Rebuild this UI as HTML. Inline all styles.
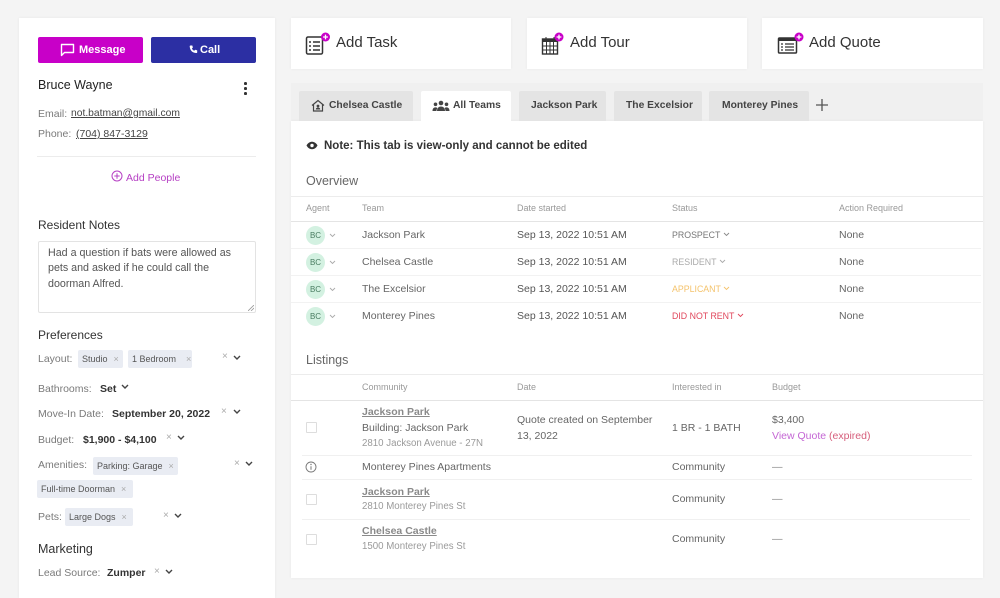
<!DOCTYPE html>
<html><head><meta charset="utf-8">
<style>
*{margin:0;padding:0;box-sizing:border-box}
body{width:1000px;height:589px;background:#f4f4f4;font-family:"Liberation Sans",Arial,sans-serif;position:relative;overflow:hidden;color:#333}
.a{position:absolute;white-space:nowrap;line-height:16px;height:16px}
.box{position:absolute;background:#fff}
.hr{position:absolute;height:1px;background:#ececec}
.lbl{color:#7a7a7a;font-size:10.5px}
.val{color:#333;font-size:10.5px;font-weight:bold}
.chip{position:absolute;background:#e9ecf3;border-radius:2px;height:18px;line-height:18px;font-size:9px;color:#555;padding-left:4px;white-space:nowrap}
.chip i{font-style:normal;color:#aaa;margin-left:6px;font-size:9px}
.x{position:absolute;color:#aaa;font-size:10px;line-height:10px}
.hd{font-size:9px;color:#999}
.rw{font-size:10.5px;color:#666}
.cb{position:absolute;width:11px;height:11px;border:1px solid #ddd;border-radius:1px;background:#fff}
.tab{position:absolute;top:91px;height:30px;background:#e4e4e4;border-radius:2px 2px 0 0;font-size:10.3px;font-weight:bold;color:#444;line-height:30px;white-space:nowrap}
</style></head><body>

<!-- LEFT PANEL -->
<div class="box" style="left:19px;top:18px;width:256px;height:580px;box-shadow:0 0 3px rgba(0,0,0,.06)"></div>

<div style="position:absolute;left:38px;top:37px;width:105px;height:26px;background:#c800c8;border-radius:2px"></div>
<svg style="position:absolute;left:60px;top:43px" width="15" height="14" viewBox="0 0 15 14"><path d="M1.5 1.5h12v8h-9l-3 3z" fill="none" stroke="#fff" stroke-width="1.4" stroke-linejoin="round"/></svg>
<div class="a" style="left:79px;top:42px;color:#fff;font-size:11px;font-weight:bold">Message</div>

<div style="position:absolute;left:151px;top:37px;width:105px;height:26px;background:#2c2fa3;border-radius:2px"></div>
<svg style="position:absolute;left:189px;top:45px" width="9" height="9" viewBox="0 0 9 9"><path d="M1.5 0.5l1.8 0 .6 2-1 1c.5 1 1.3 1.8 2.3 2.3l1-1 2 .6v1.8c0 .5-.4.8-.8.8C3.4 8 1 5.6 0.7 1.3c0-.4.3-.8.8-.8z" fill="#fff"/></svg>
<div class="a" style="left:200px;top:42px;color:#fff;font-size:11px;font-weight:bold">Call</div>

<div class="a" style="left:38px;top:77px;font-size:12.5px;color:#222">Bruce Wayne</div>
<div style="position:absolute;left:244px;top:82px;width:2.6px;height:2.6px;border-radius:50%;background:#333"></div>
<div style="position:absolute;left:244px;top:87px;width:2.6px;height:2.6px;border-radius:50%;background:#333"></div>
<div style="position:absolute;left:244px;top:92px;width:2.6px;height:2.6px;border-radius:50%;background:#333"></div>

<div class="a lbl" style="left:38px;top:106px">Email:</div>
<div class="a" style="left:71px;top:106px;font-size:10.3px;color:#444;text-decoration:underline">not.batman@gmail.com</div>
<div class="a lbl" style="left:38px;top:126px">Phone:</div>
<div class="a" style="left:76px;top:126px;font-size:10.5px;color:#444;text-decoration:underline">(704) 847-3129</div>

<div class="hr" style="left:37px;top:156px;width:219px"></div>

<svg style="position:absolute;left:111px;top:170px" width="12" height="12" viewBox="0 0 12 12"><circle cx="6" cy="6" r="5" fill="none" stroke="#b640c4" stroke-width="1"/><path d="M6 3.3v5.4M3.3 6h5.4" stroke="#b640c4" stroke-width="1"/></svg>
<div class="a" style="left:126px;top:170px;font-size:10.5px;color:#b640c4">Add People</div>

<div class="a" style="left:38px;top:217px;font-size:12px;color:#333">Resident Notes</div>
<div style="position:absolute;left:38px;top:241px;width:218px;height:72px;border:1px solid #e3e3e3;border-radius:2px"></div>
<div class="a" style="left:48px;top:245px;font-size:10.7px;color:#555">Had a question if bats were allowed as</div>
<div class="a" style="left:48px;top:260px;font-size:10.7px;color:#555">pets and asked if he could call the</div>
<div class="a" style="left:48px;top:276px;font-size:10.7px;color:#555">doorman Alfred.</div>
<svg style="position:absolute;left:248px;top:305px" width="6" height="6"><path d="M0 6L6 0M3 6L6 3" stroke="#999" stroke-width="0.8"/></svg>

<div class="a" style="left:38px;top:327px;font-size:12px;color:#333">Preferences</div>

<div class="a lbl" style="left:38px;top:351px">Layout:</div>
<div class="chip" style="left:78px;top:350px;width:45px">Studio<i>×</i></div>
<div class="chip" style="left:128px;top:350px;width:64px">1 Bedroom<i style="margin-left:10px">×</i></div>
<div class="x" style="left:222px;top:352px">×</div>
<svg style="position:absolute;left:233px;top:355px" width="8" height="6"><polyline points="1,1 4,4 7,1" fill="none" stroke="#444" stroke-width="1.4"/></svg>

<div class="a lbl" style="left:38px;top:381px">Bathrooms:</div>
<div class="a val" style="left:100px;top:381px">Set</div>
<svg style="position:absolute;left:121px;top:384px" width="8" height="6"><polyline points="1,1 4,4 7,1" fill="none" stroke="#444" stroke-width="1.4"/></svg>

<div class="a lbl" style="left:38px;top:406px">Move-In Date:</div>
<div class="a val" style="left:112px;top:406px">September 20, 2022</div>
<div class="x" style="left:221px;top:407px">×</div>
<svg style="position:absolute;left:233px;top:409px" width="8" height="6"><polyline points="1,1 4,4 7,1" fill="none" stroke="#444" stroke-width="1.4"/></svg>

<div class="a lbl" style="left:38px;top:432px">Budget:</div>
<div class="a val" style="left:83px;top:432px">$1,900 - $4,100</div>
<div class="x" style="left:166px;top:433px">×</div>
<svg style="position:absolute;left:177px;top:435px" width="8" height="6"><polyline points="1,1 4,4 7,1" fill="none" stroke="#444" stroke-width="1.4"/></svg>

<div class="a lbl" style="left:38px;top:457px">Amenities:</div>
<div class="chip" style="left:93px;top:457px;width:85px">Parking: Garage<i>×</i></div>
<div class="x" style="left:234px;top:459px">×</div>
<svg style="position:absolute;left:245px;top:461px" width="8" height="6"><polyline points="1,1 4,4 7,1" fill="none" stroke="#444" stroke-width="1.4"/></svg>
<div class="chip" style="left:37px;top:480px;width:96px">Full-time Doorman<i>×</i></div>

<div class="a lbl" style="left:38px;top:509px">Pets:</div>
<div class="chip" style="left:65px;top:508px;width:68px">Large Dogs<i>×</i></div>
<div class="x" style="left:163px;top:511px">×</div>
<svg style="position:absolute;left:174px;top:513px" width="8" height="6"><polyline points="1,1 4,4 7,1" fill="none" stroke="#444" stroke-width="1.4"/></svg>

<div class="a" style="left:38px;top:541px;font-size:12.5px;color:#333">Marketing</div>
<div class="a lbl" style="left:38px;top:565px">Lead Source:</div>
<div class="a val" style="left:107px;top:565px">Zumper</div>
<div class="x" style="left:154px;top:567px">×</div>
<svg style="position:absolute;left:165px;top:569px" width="8" height="6"><polyline points="1,1 4,4 7,1" fill="none" stroke="#444" stroke-width="1.4"/></svg>

<!-- TOP CARDS -->
<div class="box" style="left:291px;top:18px;width:220px;height:51px;box-shadow:0 0 3px rgba(0,0,0,.05)"></div>
<div class="box" style="left:527px;top:18px;width:220px;height:51px;box-shadow:0 0 3px rgba(0,0,0,.05)"></div>
<div class="box" style="left:762px;top:18px;width:221px;height:51px;box-shadow:0 0 3px rgba(0,0,0,.05)"></div>

<svg style="position:absolute;left:305px;top:32px" width="26" height="24" viewBox="0 0 26 24">
<rect x="1.5" y="5" width="16" height="17" rx="1.5" fill="none" stroke="#333" stroke-width="1.5"/>
<path d="M4 10h2M8 10h7M4 14h2M8 14h7M4 18h2M8 18h7" stroke="#333" stroke-width="1.4"/>
<circle cx="20.5" cy="5" r="4.5" fill="#c800c8"/><path d="M20.5 2.6v4.8M18.1 5h4.8" stroke="#fff" stroke-width="1.3"/></svg>
<div class="a" style="left:336px;top:35px;font-size:15px;color:#333;line-height:16px">Add Task</div>

<svg style="position:absolute;left:541px;top:32px" width="26" height="24" viewBox="0 0 26 24">
<rect x="1.5" y="7" width="15" height="15" fill="none" stroke="#333" stroke-width="1.4"/>
<rect x="1.5" y="7" width="15" height="3" fill="#333"/>
<path d="M5 5v3M13 5v3M1.5 14h15M1.5 18h15M5.5 10v12M9 10v12M12.5 10v12" stroke="#333" stroke-width="1"/>
<circle cx="18" cy="5" r="4.5" fill="#c800c8"/><path d="M18 2.6v4.8M15.6 5h4.8" stroke="#fff" stroke-width="1.3"/></svg>
<div class="a" style="left:570px;top:35px;font-size:15px;color:#333">Add Tour</div>

<svg style="position:absolute;left:777px;top:32px" width="28" height="24" viewBox="0 0 28 24">
<rect x="1.5" y="6" width="18" height="15" rx="1" fill="none" stroke="#333" stroke-width="1.5"/>
<rect x="1.5" y="6" width="18" height="3" fill="#333"/>
<path d="M4 12h2M8 12h9M4 15h2M8 15h9M4 18h2M8 18h9" stroke="#333" stroke-width="1.2"/>
<circle cx="22" cy="5" r="4.5" fill="#c800c8"/><path d="M22 2.6v4.8M19.6 5h4.8" stroke="#fff" stroke-width="1.3"/></svg>
<div class="a" style="left:809px;top:35px;font-size:15px;color:#333">Add Quote</div>

<!-- MAIN PANEL -->
<div style="position:absolute;left:291px;top:83px;width:692px;height:38px;background:#f0f0f0"></div>
<div class="box" style="left:291px;top:121px;width:692px;height:457px;box-shadow:0 0 3px rgba(0,0,0,.05)"></div>

<div class="tab" style="left:299px;width:114px">
<svg style="position:absolute;left:12px;top:8px" width="14" height="13" viewBox="0 0 14 13"><path d="M1 6.5L7 1.5l6 5M2.5 5.5V12h9V5.5" fill="none" stroke="#444" stroke-width="1.2"/><circle cx="7" cy="7" r="1.4" fill="#444"/><path d="M4.8 10.5c0-1.5 1-2 2.2-2s2.2.5 2.2 2" fill="#444"/></svg>
<span style="position:absolute;left:30px">Chelsea Castle</span></div>
<div class="tab" style="left:421px;width:90px;background:#fff">
<svg style="position:absolute;left:11px;top:9px" width="18" height="12" viewBox="0 0 18 12"><circle cx="9" cy="3" r="2.3" fill="#444"/><circle cx="3.5" cy="4.3" r="1.8" fill="#444"/><circle cx="14.5" cy="4.3" r="1.8" fill="#444"/><path d="M5 11c0-3 1.8-4.5 4-4.5s4 1.5 4 4.5z" fill="#444"/><path d="M0.5 11c0-2.4 1.2-3.6 3-3.6 1 0 1.5.3 1.9.7-.6.8-.9 1.8-.9 2.9z" fill="#444"/><path d="M17.5 11c0-2.4-1.2-3.6-3-3.6-1 0-1.5.3-1.9.7.6.8.9 1.8.9 2.9z" fill="#444"/></svg>
<span style="position:absolute;left:32px">All Teams</span></div>
<div class="tab" style="left:519px;width:87px"><span style="position:absolute;left:12px">Jackson Park</span></div>
<div class="tab" style="left:614px;width:88px"><span style="position:absolute;left:12px">The Excelsior</span></div>
<div class="tab" style="left:709px;width:100px"><span style="position:absolute;left:13px">Monterey Pines</span></div>
<svg style="position:absolute;left:816px;top:99px" width="12" height="12"><path d="M6 0v12M0 6h12" stroke="#555" stroke-width="1.3"/></svg>

<!-- note -->
<svg style="position:absolute;left:306px;top:141px" width="12" height="9" viewBox="0 0 12 9"><path d="M0.5 4.5C2 1.8 4 0.8 6 0.8s4 1 5.5 3.7C10 7.2 8 8.2 6 8.2S2 7.2 0.5 4.5z" fill="#333"/><circle cx="6" cy="4.5" r="1.7" fill="#fff"/></svg>
<div class="a" style="left:324px;top:138px;font-size:11.5px;font-weight:bold;color:#333">Note: This tab is view-only and cannot be edited</div>

<div class="a" style="left:306px;top:173px;font-size:12.5px;color:#666">Overview</div>
<div class="hr" style="left:291px;top:196px;width:692px"></div>
<div class="a hd" style="left:306px;top:200px">Agent</div>
<div class="a hd" style="left:362px;top:200px">Team</div>
<div class="a hd" style="left:517px;top:200px">Date started</div>
<div class="a hd" style="left:672px;top:200px">Status</div>
<div class="a hd" style="left:839px;top:200px">Action Required</div>
<div class="hr" style="left:291px;top:221px;width:692px;background:#e4e4e4"></div>

<!-- overview rows -->
<div style="position:absolute;left:306px;top:226px;width:19px;height:19px;border-radius:50%;background:#d3f1e1;font-size:8px;color:#4a7d62;text-align:center;line-height:19px">BC</div>
<div style="position:absolute;left:306px;top:253px;width:19px;height:19px;border-radius:50%;background:#d3f1e1;font-size:8px;color:#4a7d62;text-align:center;line-height:19px">BC</div>
<div style="position:absolute;left:306px;top:280px;width:19px;height:19px;border-radius:50%;background:#d3f1e1;font-size:8px;color:#4a7d62;text-align:center;line-height:19px">BC</div>
<div style="position:absolute;left:306px;top:307px;width:19px;height:19px;border-radius:50%;background:#d3f1e1;font-size:8px;color:#4a7d62;text-align:center;line-height:19px">BC</div>
<svg style="position:absolute;left:329px;top:233px" width="7" height="5"><polyline points="1,1 3.5,3.5 6,1" fill="none" stroke="#aaa" stroke-width="0.9"/></svg>
<svg style="position:absolute;left:329px;top:260px" width="7" height="5"><polyline points="1,1 3.5,3.5 6,1" fill="none" stroke="#aaa" stroke-width="0.9"/></svg>
<svg style="position:absolute;left:329px;top:287px" width="7" height="5"><polyline points="1,1 3.5,3.5 6,1" fill="none" stroke="#aaa" stroke-width="0.9"/></svg>
<svg style="position:absolute;left:329px;top:314px" width="7" height="5"><polyline points="1,1 3.5,3.5 6,1" fill="none" stroke="#aaa" stroke-width="0.9"/></svg>

<div class="a rw" style="left:362px;top:227px">Jackson Park</div>
<div class="a rw" style="left:362px;top:254px">Chelsea Castle</div>
<div class="a rw" style="left:362px;top:281px">The Excelsior</div>
<div class="a rw" style="left:362px;top:308px">Monterey Pines</div>

<div class="a rw" style="left:517px;top:227px;color:#555">Sep 13, 2022 10:51 AM</div>
<div class="a rw" style="left:517px;top:254px;color:#555">Sep 13, 2022 10:51 AM</div>
<div class="a rw" style="left:517px;top:281px;color:#555">Sep 13, 2022 10:51 AM</div>
<div class="a rw" style="left:517px;top:308px;color:#555">Sep 13, 2022 10:51 AM</div>

<div class="a" style="left:672px;top:227px;font-size:8.8px;color:#777">PROSPECT <svg width="7" height="5" style="vertical-align:1px"><polyline points="1,1 3.5,3.5 6,1" fill="none" stroke="#888" stroke-width="0.9"/></svg></div>
<div class="a" style="left:672px;top:254px;font-size:8.8px;color:#aaa">RESIDENT <svg width="7" height="5" style="vertical-align:1px"><polyline points="1,1 3.5,3.5 6,1" fill="none" stroke="#aaa" stroke-width="0.9"/></svg></div>
<div class="a" style="left:672px;top:281px;font-size:8.8px;color:#f4c36c">APPLICANT <svg width="7" height="5" style="vertical-align:1px"><polyline points="1,1 3.5,3.5 6,1" fill="none" stroke="#f4c36c" stroke-width="0.9"/></svg></div>
<div class="a" style="left:672px;top:308px;font-size:8.8px;color:#e0465b">DID NOT RENT <svg width="7" height="5" style="vertical-align:1px"><polyline points="1,1 3.5,3.5 6,1" fill="none" stroke="#e0465b" stroke-width="0.9"/></svg></div>

<div class="a rw" style="left:839px;top:227px">None</div>
<div class="a rw" style="left:839px;top:254px">None</div>
<div class="a rw" style="left:839px;top:281px">None</div>
<div class="a rw" style="left:839px;top:308px">None</div>

<div class="hr" style="left:291px;top:248px;width:690px;background:#f2f2f2"></div>
<div class="hr" style="left:291px;top:275px;width:690px;background:#f2f2f2"></div>
<div class="hr" style="left:291px;top:302px;width:690px;background:#f2f2f2"></div>

<!-- listings -->
<div class="a" style="left:306px;top:352px;font-size:12.5px;color:#666">Listings</div>
<div class="hr" style="left:291px;top:374px;width:692px"></div>
<div class="a hd" style="left:362px;top:379px">Community</div>
<div class="a hd" style="left:517px;top:379px">Date</div>
<div class="a hd" style="left:672px;top:379px">Interested in</div>
<div class="a hd" style="left:772px;top:379px">Budget</div>
<div class="hr" style="left:291px;top:400px;width:692px;background:#e4e4e4"></div>

<div class="cb" style="left:306px;top:422px"></div>
<div class="a" style="left:362px;top:404px;font-size:10.5px;font-weight:bold;color:#8a8a8a;text-decoration:underline">Jackson Park</div>
<div class="a rw" style="left:362px;top:420px">Building: Jackson Park</div>
<div class="a" style="left:362px;top:436px;font-size:9.7px;color:#9a9a9a">2810 Jackson Avenue - 27N</div>
<div class="a rw" style="left:517px;top:412px">Quote created on September</div>
<div class="a rw" style="left:517px;top:428px">13, 2022</div>
<div class="a rw" style="left:672px;top:420px">1 BR - 1 BATH</div>
<div class="a rw" style="left:772px;top:412px">$3,400</div>
<div class="a" style="left:772px;top:428px;font-size:10.5px"><span style="color:#c466d4">View Quote</span> <span style="color:#d65f7c">(expired)</span></div>
<div class="hr" style="left:302px;top:455px;width:670px;background:#f0f0f0"></div>

<svg style="position:absolute;left:305px;top:461px" width="12" height="12"><circle cx="6" cy="6" r="5" fill="none" stroke="#777" stroke-width="0.9"/><path d="M6 5.2v3.6" stroke="#777" stroke-width="1"/><circle cx="6" cy="3.5" r="0.7" fill="#777"/></svg>
<div class="a rw" style="left:362px;top:459px">Monterey Pines Apartments</div>
<div class="a rw" style="left:672px;top:459px">Community</div>
<div class="a" style="left:772px;top:459px;font-size:10.5px;color:#888">—</div>
<div class="hr" style="left:302px;top:479px;width:670px;background:#f0f0f0"></div>

<div class="cb" style="left:306px;top:494px"></div>
<div class="a" style="left:362px;top:484px;font-size:10.5px;font-weight:bold;color:#8a8a8a;text-decoration:underline">Jackson Park</div>
<div class="a" style="left:362px;top:499px;font-size:9.7px;color:#9a9a9a">2810 Monterey Pines St</div>
<div class="a rw" style="left:672px;top:491px">Community</div>
<div class="a" style="left:772px;top:491px;font-size:10.5px;color:#888">—</div>
<div class="hr" style="left:302px;top:519px;width:668px;background:#f0f0f0"></div>

<div class="cb" style="left:306px;top:534px"></div>
<div class="a" style="left:362px;top:523px;font-size:10.5px;font-weight:bold;color:#8a8a8a;text-decoration:underline">Chelsea Castle</div>
<div class="a" style="left:362px;top:539px;font-size:9.7px;color:#9a9a9a">1500 Monterey Pines St</div>
<div class="a rw" style="left:672px;top:531px">Community</div>
<div class="a" style="left:772px;top:531px;font-size:10.5px;color:#888">—</div>

</body></html>
